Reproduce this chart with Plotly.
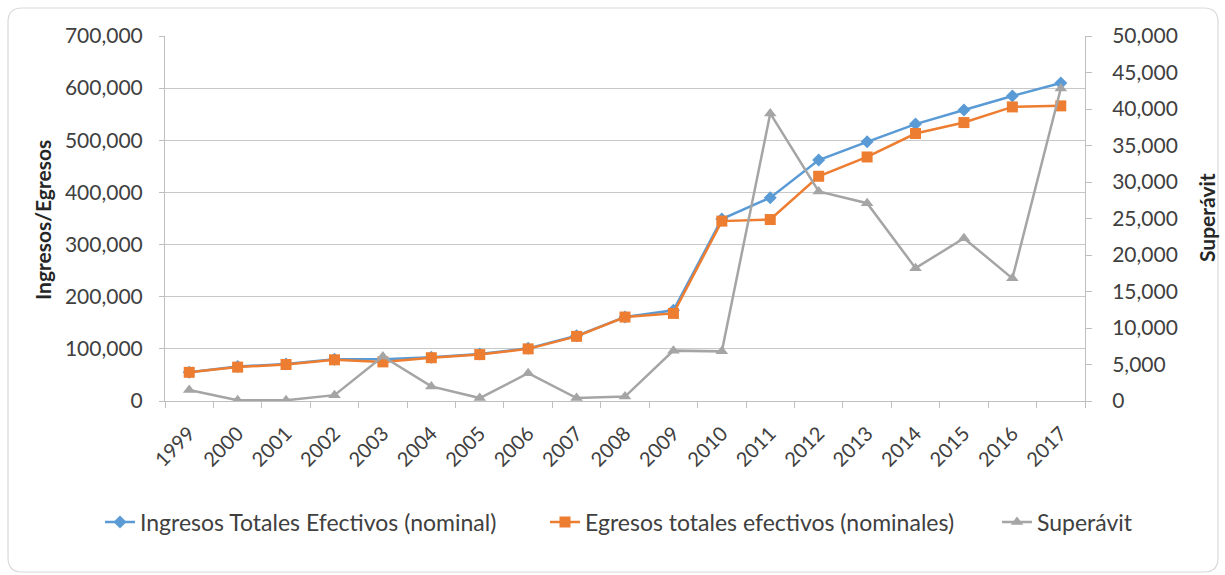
import plotly.graph_objects as go

years = [str(y) for y in range(1999, 2018)]
ingresos = [55000, 66000, 71000, 80000, 80000, 84000, 90000, 101000, 125000, 161000,
            174000, 349000, 390000, 462000, 497000, 531000, 558000, 585000, 610000]
egresos = [55000, 65000, 70000, 79000, 75000, 83000, 89000, 100000, 124000, 161000,
           168000, 345000, 348000, 431000, 468000, 513000, 534000, 564000, 566000]
superavit = [1500, 100, 100, 800, 6100, 2000, 400, 3800, 400, 600,
             6900, 6800, 39400, 28700, 27100, 18200, 22300, 16800, 42800]

left_ticks = list(range(0, 700001, 100000))
right_ticks = list(range(0, 50001, 5000))

FONT = "Lato"
TXT = "#404040"
GRID = "#c8c8c8"
AXIS = "#bfbfbf"

W, H = 1225, 575
ML, MR, MT, MB = 165, 140, 36, 174
PW, PH = W - ML - MR, H - MT - MB


def px(x):
    return (x - ML) / PW


def py(y):
    return (H - MB - y) / PH


fig = go.Figure()

fig.add_trace(go.Scatter(
    x=years, y=ingresos, name="Ingresos Totales Efectivos (nominal)",
    mode="lines+markers", line=dict(color="#5B9BD5", width=2.5),
    marker=dict(symbol="diamond", size=10, color="#5B9BD5"), legend="legend",
))
fig.add_trace(go.Scatter(
    x=years, y=egresos, name="Egresos totales efectivos (nominales)",
    mode="lines+markers", line=dict(color="#ED7D31", width=2.5),
    marker=dict(symbol="square", size=11, color="#ED7D31"), legend="legend2",
))
fig.add_trace(go.Scatter(
    x=years, y=superavit, name="Superávit", yaxis="y2",
    mode="lines+markers", line=dict(color="#A5A5A5", width=2.5),
    marker=dict(symbol="triangle-up", size=11, color="#A5A5A5"), legend="legend3",
))

# rounded outer frame of the chart
x0, x1, y0, y1, r = px(8), px(1218), py(8), py(572), 14
rx, ry = r / PW, r / PH
frame = (f"M {x0 + rx},{y0} L {x1 - rx},{y0} Q {x1},{y0} {x1},{y0 - ry} "
         f"L {x1},{y1 + ry} Q {x1},{y1} {x1 - rx},{y1} "
         f"L {x0 + rx},{y1} Q {x0},{y1} {x0},{y1 + ry} "
         f"L {x0},{y0 - ry} Q {x0},{y0} {x0 + rx},{y0} Z")

title_font = dict(family=FONT, size=21, color="#262626")


def legend_at(left):
    return dict(orientation="h", x=px(left), xanchor="left", y=py(522), yanchor="middle",
                font=dict(size=23, color=TXT), bgcolor="rgba(0,0,0,0)")


fig.update_layout(
    width=W, height=H,
    margin=dict(l=ML, r=MR, t=MT, b=MB, autoexpand=False),
    paper_bgcolor="white", plot_bgcolor="white",
    font=dict(family=FONT, size=20, color=TXT),
    showlegend=True,
    legend=legend_at(100),
    legend2=legend_at(545),
    legend3=legend_at(997),
    xaxis=dict(
        type="category", range=[-0.5, 18.5], tickangle=-45, tickson="boundaries",
        ticks="outside", ticklen=6, tickcolor=AXIS,
        showline=True, linecolor=AXIS, linewidth=1,
        showgrid=False, tickfont=dict(size=20, color=TXT), ticklabelstandoff=12,
    ),
    yaxis=dict(
        range=[0, 700000], tickvals=left_ticks, tickformat=",",
        showgrid=True, gridcolor=GRID, gridwidth=1.3,
        showline=True, linecolor=AXIS, ticks="outside", ticklen=5, tickcolor=AXIS,
        zeroline=False, ticklabelstandoff=12,
        tickfont=dict(size=21, color=TXT),
    ),
    yaxis2=dict(
        range=[0, 50000], tickvals=right_ticks, tickformat=",",
        overlaying="y", side="right", showgrid=False,
        showline=True, linecolor=AXIS, ticks="outside", ticklen=6, tickcolor=AXIS,
        zeroline=False, ticklabelstandoff=16,
        tickfont=dict(size=21, color=TXT),
    ),
    annotations=[
        dict(text="<b>Ingresos/Egresos</b>", textangle=-90, xref="paper", yref="paper",
             x=px(43), y=py(220), xanchor="center", yanchor="middle", showarrow=False,
             font=title_font),
        dict(text="<b>Superávit</b>", textangle=-90, xref="paper", yref="paper",
             x=px(1207), y=py(218), xanchor="center", yanchor="middle", showarrow=False,
             font=title_font),
    ],
    shapes=[dict(type="path", xref="paper", yref="paper", path=frame,
                 line=dict(color="#d9d9d9", width=1.2), layer="below")],
)

fig.write_html("out.html")
